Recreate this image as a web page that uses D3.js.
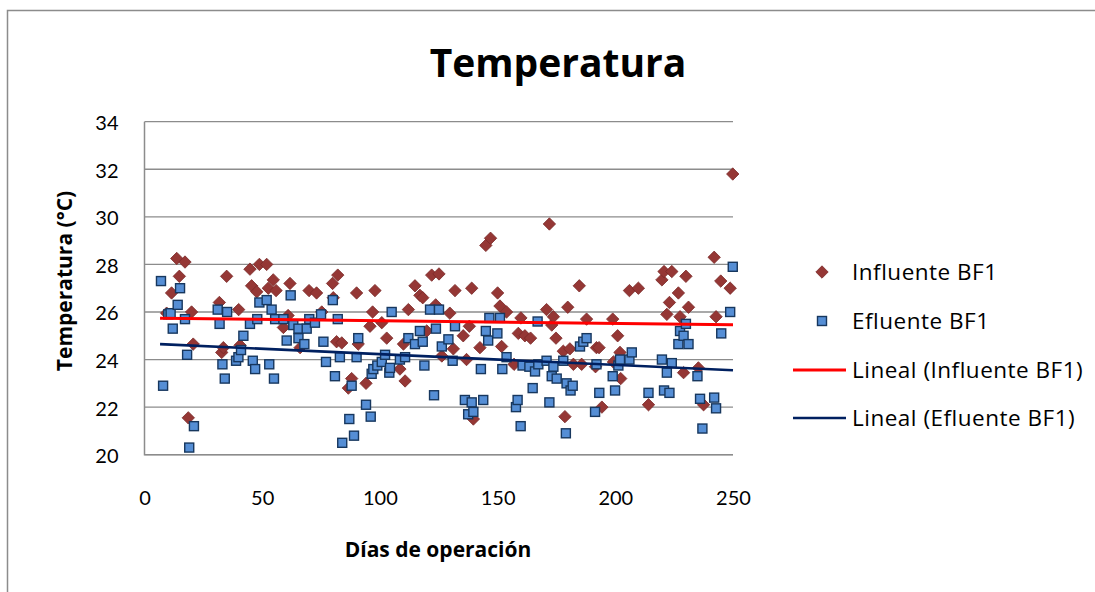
<!DOCTYPE html>
<html><head><meta charset="utf-8">
<script src="https://cdn.jsdelivr.net/npm/d3@7"></script>
<style>body{margin:0;background:#fff}svg{display:block;font-family:"Open Sans",Lato,sans-serif}</style>
</head><body><svg id="c" width="1095" height="592"></svg>
<script>
const chartTitle = "Temperatura";
const xTitle = "Días de operación";
const yTitle = "Temperatura (°C)";
const seriesNames = ["Influente BF1", "Efluente BF1", "Lineal (Influente BF1)", "Lineal (Efluente BF1)"];
const xTicks = [0, 50, 100, 150, 200, 250];
const yTicks = [20, 22, 24, 26, 28, 30, 32, 34];

const infX = [9.4,11.5,13.7,14.8,17.2,18.6,20,20.7,31.8,32.8,33.5,34.9,40,40.6,44.8,45.5,47.7,48.8,51.9,52.6,54.7,55.9,59,61,61.8,
66.1,69.9,73.1,75.3,79.9,80.2,81.6,82.1,83.8,86.6,88,90.1,90.8,94.1,95.8,96.9,97.9,100.8,102.9,108.5,110,110.7,112.1,114.9,117,118.2,119.9,122,123.7,125.1,126.3,
129.7,131.2,131.9,135.4,136.8,138,139,139.7,142.5,145,147,150,151,151.7,153.8,157,158.8,159.9,161.6,164,170.8,172,173,173.7,174.8,177.9,178.6,179.8,180.7,182.2,184.7,185.7,187.8,191.6,192,
193.1,194.3,198.9,199.2,201,202,202.3,206,209.8,214.1,219.8,220.7,221.9,223,224,226.8,227.5,229,230,231.1,235.3,237.5,242,242.8,244.8,248.8,249.9];
const infY = [25.95,26.8,28.25,27.5,28.1,21.55,26.0,24.65,26.4,24.3,24.5,27.5,26.1,24.6,27.8,27.1,26.85,28.0,28.0,27.0,27.35,26.9,25.35,25.85,27.2,
24.5,26.9,26.8,26.0,27.2,26.6,24.75,27.55,24.7,22.8,23.2,26.8,24.65,23.0,25.4,26.0,26.9,25.55,24.9,23.6,24.65,23.1,26.1,27.1,26.7,26.6,25.2,27.55,26.3,27.6,24.15,
25.95,24.45,26.9,25.0,24.0,25.4,27.0,21.5,24.5,28.8,29.1,26.8,26.25,24.55,26.0,23.8,25.1,25.75,25.0,24.9,26.1,29.7,25.45,25.8,24.9,24.35,21.6,26.2,24.45,23.8,27.1,23.8,25.7,23.7,24.5,
24.5,22.0,25.7,23.9,25.0,24.3,23.2,26.9,27.0,22.1,27.35,27.7,25.9,26.4,27.7,26.8,25.8,23.45,27.5,26.2,23.65,22.1,28.3,25.8,27.3,27.0,31.8];

const efX = [7.0,7.9,10.1,11.1,12.0,14.1,15.1,17.2,18.1,19.0,21,31.1,31.9,33.1,34.1,35.1,38.9,39.9,41,42,44.8,46,47,47.9,48.8,51.9,53,54,55,55.5,59,60.4,62.1,63.2,65.4,65.4,
67.9,68.9,70,72.4,75,76,77.1,80,80.9,82.1,83,84,87,88,89,90.1,90.8,94.1,96.1,96.5,97.2,98.9,100.8,102.2,104,104.3,105,108.5,110.7,112.1,114.9,117,118.2,118.9,121.3,123,123.8,125.1,126.3,129.1,
130.9,131.9,136.1,137.5,139,139.7,142.9,143.9,145,146,146.5,149.9,151,152,153.8,157.8,158.5,159.8,160.6,163.5,164.9,165.9,167,167.3,170.8,172,173,173.7,175.1,177.9,179,179.3,181,181.9,185,186.4,187.8,191.4,192,193.2,
198.9,199.9,201.3,202,206,207,214.1,219.8,220.7,221.9,223,224,226.8,227.5,229,230,231.1,234.9,236,237,242,242.8,245,248.8,249.9];
const efY = [27.3,22.9,25.9,25.95,25.3,26.3,27.0,25.7,24.2,20.3,21.2,26.1,25.5,23.8,23.2,26.0,23.95,24.1,24.4,25.0,25.5,23.95,23.6,25.7,26.4,26.5,23.8,26.1,23.2,25.7,25.7,24.8,26.7,25.45,25.3,24.9,
24.65,25.3,25.7,25.55,25.9,24.75,23.9,26.5,23.3,25.7,24.1,20.5,21.5,22.9,20.8,24.1,24.9,22.1,21.6,23.4,23.6,23.75,23.9,24.2,23.45,23.65,26.0,24.0,24.1,24.9,24.65,25.2,24.75,23.75,26.1,22.5,25.3,26.1,24.55,24.85,
23.95,25.4,22.3,21.7,22.2,21.8,23.6,22.3,25.2,24.8,25.75,25.1,25.75,23.6,24.1,22.0,22.3,21.2,23.75,23.7,22.8,23.5,25.6,23.8,23.95,22.2,23.3,23.7,23.2,23.95,20.9,23.0,22.7,22.9,24.55,24.75,24.9,21.8,23.8,22.6,
23.3,22.7,23.75,24.0,24.0,24.3,22.6,24.0,22.7,23.45,22.6,23.85,24.65,25.2,25.0,25.5,24.65,23.3,22.35,21.1,22.4,21.95,25.1,26.0,27.9];

// trend lines (linear fits)
const trendInfX = [6.6, 250];
const trendInfY = [25.74, 25.46];
const trendEfX = [6.6, 250];
const trendEfY = [24.65, 23.55];

const svg = d3.select("#c");
const M = {left:144.5, top:121.7, right:733, bottom:454.7};
const x = d3.scaleLinear().domain([0,250]).range([M.left, M.right]);
const y = d3.scaleLinear().domain([20,34]).range([M.bottom, M.top]);

// outer frame
svg.append("path").attr("d","M7.5,592 V10.5 H1095").attr("fill","none").attr("stroke","#8c8c8c").attr("stroke-width",1.5);

// gridlines
svg.append("g").selectAll("line").data(yTicks).join("line")
  .attr("x1",M.left).attr("x2",M.right).attr("y1",d=>y(d)).attr("y2",d=>y(d))
  .attr("stroke","#8c8c8c").attr("stroke-width",1.3);
// plot frame left/bottom
svg.append("path").attr("d",`M${M.left},${M.top} V${M.bottom} H${M.right}`).attr("fill","none").attr("stroke","#8c8c8c").attr("stroke-width",1.5);

// axes labels using d3 axes
const ya = svg.append("g").attr("transform",`translate(${M.left - 26},0)`)
  .call(d3.axisLeft(y).tickValues(yTicks).tickSize(0).tickPadding(0));
ya.select(".domain").remove();
ya.selectAll("text").attr("font-size",20).attr("font-family","Lato, sans-serif").attr("fill","#000").attr("dy","0.4em");
const xa = svg.append("g").attr("transform",`translate(0,${M.bottom + 36})`)
  .call(d3.axisBottom(x).tickValues(xTicks).tickSize(0).tickPadding(0));
xa.select(".domain").remove();
xa.selectAll("text").attr("font-size",20).attr("font-family","Lato, sans-serif").attr("fill","#000");

// titles
svg.append("text").attr("x",558).attr("y",77).attr("text-anchor","middle")
  .attr("font-size",39).attr("font-weight","bold").text(chartTitle);
svg.append("text").attr("x",438).attr("y",557).attr("text-anchor","middle")
  .attr("font-size",21).attr("font-weight","bold").text(xTitle);
svg.append("text").attr("transform","translate(72,281) rotate(-90)").attr("text-anchor","middle")
  .attr("font-size",21).attr("font-weight","bold").text(yTitle);

const inf = infX.map((v,i)=>[v,infY[i]]);
const ef = efX.map((v,i)=>[v,efY[i]]);

const diamond = s => `M0,${-s} L${s},0 L0,${s} L${-s},0 Z`;
svg.append("g").selectAll("path").data(inf).join("path")
  .attr("transform",d=>`translate(${x(d[0])},${y(d[1])})`)
  .attr("d",diamond(6.2)).attr("fill","#953735").attr("stroke","#7a2a28").attr("stroke-width",0.8);

svg.append("g").selectAll("rect").data(ef).join("rect")
  .attr("x",d=>x(d[0])-4.5).attr("y",d=>y(d[1])-4.5).attr("width",9).attr("height",9)
  .attr("fill","#558ed5").attr("stroke","#17375e").attr("stroke-width",1.4);

const line = d3.line().x(d=>x(d[0])).y(d=>y(d[1]));
svg.append("path").datum(trendInfX.map((v,i)=>[v,trendInfY[i]])).attr("d",line)
  .attr("stroke","#ff0000").attr("stroke-width",3).attr("fill","none");
svg.append("path").datum(trendEfX.map((v,i)=>[v,trendEfY[i]])).attr("d",line)
  .attr("stroke","#002060").attr("stroke-width",2.6).attr("fill","none");

// legend
const lg = svg.append("g");
const ly = [272, 321, 370, 418];
lg.append("path").attr("transform",`translate(822,${ly[0]})`).attr("d",diamond(6.2)).attr("fill","#953735").attr("stroke","#7a2a28").attr("stroke-width",0.8);
lg.append("rect").attr("x",817.5).attr("y",ly[1]-4.5).attr("width",9).attr("height",9).attr("fill","#558ed5").attr("stroke","#17375e").attr("stroke-width",1.4);
lg.append("line").attr("x1",793).attr("x2",846).attr("y1",ly[2]).attr("y2",ly[2]).attr("stroke","#ff0000").attr("stroke-width",3);
lg.append("line").attr("x1",793).attr("x2",846).attr("y1",ly[3]).attr("y2",ly[3]).attr("stroke","#002060").attr("stroke-width",2.6);
lg.selectAll("text").data(seriesNames).join("text")
  .attr("x",852).attr("y",(d,i)=>ly[i]).attr("dy","0.35em").attr("font-size",22.5).attr("letter-spacing","0.5px").attr("fill","#000").text(d=>d);
</script></body></html>
